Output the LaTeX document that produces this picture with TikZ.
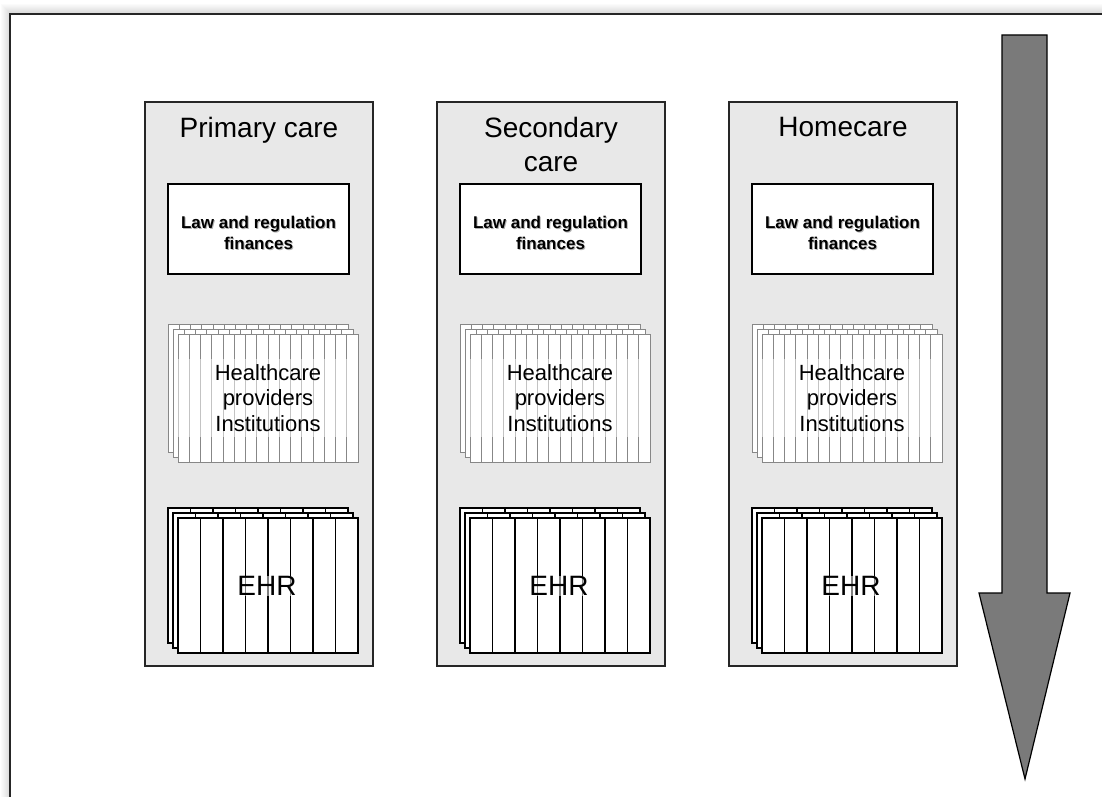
\documentclass[tikz,border=0pt]{standalone}
\usepackage{fontspec}
\setmainfont{Liberation Sans}
\definecolor{panelgray}{RGB}{232,232,232}
\definecolor{sheetline}{RGB}{135,135,135}
\definecolor{arrowgray}{RGB}{122,122,122}
\tikzset{
  frame/.style={line width=2pt,black!85},
  panel/.style={draw=black!85,fill=panelgray,line width=1.2pt,minimum width=228pt,minimum height=564pt,inner sep=0pt},
  titletext/.style={font=\fontsize{28}{34}\selectfont,align=center,anchor=north,inner sep=0pt},
  lawbox/.style={draw=black,fill=white,line width=1.2pt,minimum width=181pt,minimum height=90pt,inner sep=0pt},
  lawtext/.style={font=\bfseries\fontsize{17}{21}\selectfont,align=center,inner sep=0pt},
  hcsheet/.style={draw=sheetline,fill=white,line width=1pt},
  hcline/.style={draw=sheetline,line width=1pt},
  hctext/.style={font=\fontsize{22}{25.5}\selectfont,align=center,fill=white,fill opacity=0.5,text opacity=1,minimum width=180pt,inner ysep=5pt},
  ehrsheet/.style={draw=black,fill=white,line width=1.2pt},
  ehrline/.style={draw=black,line width=1.2pt},
  ehrtext/.style={font=\fontsize{28}{32}\selectfont,fill=white,fill opacity=0.5,text opacity=1,inner sep=0pt},
  bigarrow/.style={draw=black,fill=arrowgray,line width=1.2pt,line join=miter}
}
\begin{document}
\begin{tikzpicture}[x=1pt,y=-1pt]
\useasboundingbox (0,0) rectangle (1102,797);
% soft shadow of the frame
\foreach \i [evaluate=\i as \op using 0.15-0.015*\i] in {1,...,9}
  \draw[black,opacity=\op,line width=1pt] (10-\i,797) -- (10-\i,14-\i) -- (1102,14-\i);
\draw[frame] (10,797) -- (10,14) -- (1102,14);
% the three columns
\foreach \n/\px/\ttl in {1/0/{Primary care},2/292/{Secondary\\care},3/584/{Homecare}}{
  \node[panel] (panel\n) at (259+\px,384) {};
  \node[titletext] (title\n) at (259+\px,117) {\ttl};
  % law box
  \node[lawbox] (law\n) at (258.5+\px,229) {};
  \node[lawtext,black!30] (lawshadow\n) at ([xshift=1pt,yshift=-5pt]law\n.center) {Law and regulation\\finances};
  \node[lawtext] (lawtxt\n) at ([yshift=-3.5pt]law\n.center) {Law and regulation\\finances};
  % healthcare sheets
  \foreach \k in {10,5,0}{
    \draw[hcsheet] (178+\px-\k,334-\k) rectangle ++(180,128);
    \foreach \c in {1,...,15}
      \draw[hcline] (178+\px-\k+\c*11.25,334-\k) -- ++(0,128);
  }
  \node[hctext] (hc\n) at (268+\px,398) {Healthcare\\providers\\Institutions};
  % EHR sheets
  \foreach \k in {10,5,0}{
    \draw[ehrsheet] (178+\px-\k,518-\k) rectangle ++(180,135);
    \foreach \c in {1,...,7}
      \draw[ehrline] (178+\px-\k+\c*22.5,518-\k) -- ++(0,135);
  }
  \node[ehrtext] (ehr\n) at (267+\px,586) {EHR};
}
% arrow on the right
\draw[bigarrow] (1002,35) -- (1047,35) -- (1047,593) -- (1070,593) -- (1025,779) -- (979,593) -- (1002,593) -- cycle;
\end{tikzpicture}
\end{document}
